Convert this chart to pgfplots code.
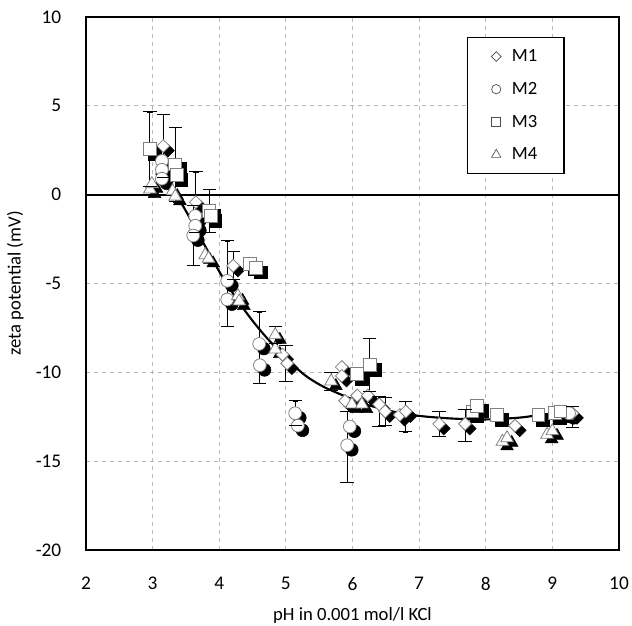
\documentclass[border=0pt]{standalone}
\usepackage{pgfplots}
\pgfplotsset{compat=1.18}
\usepackage{pgfplotstable}
\usepackage{fontspec}
\setmainfont{Carlito}

\pgfplotstableread{
x y
3.16 2.74
3.65 -0.42
4.21 -4.0
4.95 -9.0
5.02 -9.5
5.84 -9.7
5.84 -10.2
5.89 -11.6
6.07 -11.3
6.23 -11.3
6.40 -11.8
6.49 -12.2
6.71 -12.4
6.80 -12.2
7.30 -12.9
7.69 -12.9
8.44 -13.0
9.30 -12.3
}\mone

\pgfplotstableread{
x y
3.14 1.9
3.14 1.4
3.14 0.9
3.64 -1.2
3.64 -1.75
3.61 -2.3
4.12 -4.85
4.12 -5.9
4.60 -8.4
4.61 -9.6
5.14 -12.3
5.18 -13.0
5.96 -13.05
5.92 -14.1
9.25 -12.3
}\mtwo

\pgfplotstableread{
x y
2.96 2.56
3.34 1.7
3.36 1.1
3.85 -0.9
3.87 -1.2
4.46 -3.9
4.55 -4.1
6.07 -10.1
6.26 -9.6
7.80 -12.2
7.87 -11.9
8.17 -12.4
8.79 -12.4
9.04 -12.3
9.12 -12.2
}\mthree

\pgfplotstableread{
x y
2.96 0.3
2.99 0.6
3.30 0.2
3.34 -0.1
3.79 -3.4
3.84 -3.6
4.28 -5.7
4.30 -6.0
4.84 -7.9
4.84 -8.7
5.68 -10.5
5.99 -11.8
6.14 -11.8
8.25 -13.9
8.32 -13.7
8.92 -13.5
9.00 -13.3
}\mfour

\pgfplotstableread{
x y e
2.96 2.56 2.1
3.16 2.74 1.8
3.34 1.7 2.1
3.65 -0.42 1.7
3.85 -0.9 1.2
3.61 -2.3 1.7
4.12 -5.0 2.4
4.21 -4.0 0.8
4.60 -8.6 2.0
4.84 -7.9 0.5
5.00 -9.5 1.0
5.14 -12.3 0.7
5.68 -10.5 0.5
5.92 -14.2 2.0
6.26 -9.6 1.5
6.40 -12.2 0.85
6.49 -12.2 0.8
6.80 -12.5 0.85
7.30 -12.9 0.7
7.69 -13.0 0.9
9.30 -12.5 0.6
}\errs

\pgfplotstableread{
x y
3.05 1.2
3.40 -0.3
3.70 -2.3
4.06 -4.7
4.40 -6.6
4.70 -8.0
5.06 -9.4
5.30 -10.2
5.56 -10.8
5.86 -11.3
6.20 -11.8
6.60 -12.2
7.00 -12.45
7.50 -12.6
8.00 -12.65
8.50 -12.55
8.80 -12.4
}\fit

\begin{document}
\begin{tikzpicture}
\begin{axis}[
  name=ax,
  width=400pt, height=400pt, scale only axis,
  xmin=2, xmax=10, ymin=-20, ymax=10,
  xtick={2,3,...,10}, ytick={-20,-15,...,10},
  major tick length=0pt,
  grid=major,
  grid style={dashed, gray!55, line width=0.6pt},
  axis line style={line width=2pt},
  /pgf/number format/assume math mode=true,
  tick label style={font=\fontsize{14.5}{16}\selectfont},
  yticklabel style={xshift=-15pt},
  xticklabel style={yshift=-17pt},
  xlabel={pH in 0.001 mol/l KCl},
  ylabel={zeta potential (mV)},
  label style={font=\fontsize{14}{16}\selectfont},
  xlabel style={at={([yshift=-49pt]axis description cs:0.5,0)}, anchor=center},
  ylabel style={at={([xshift=-53pt]axis description cs:0,0.5)}, anchor=center},
  clip=false,
  legend style={at={(0.714,0.963)}, anchor=north west, draw=black, line width=1.2pt,
    font=\fontsize{14}{16}\selectfont, row sep=10pt, column sep=6pt,
    inner xsep=18pt, inner ysep=7pt},
  legend cell align=left,
]
% legend images
\addlegendimage{only marks, mark=square, mark size=2.6pt, mark options={rotate=45, draw=black!70, line width=0.5pt}}
\addlegendentry{M1\hspace{10pt}}
\addlegendimage{only marks, mark=o, mark size=3.5pt, mark options={draw=black!70, line width=0.5pt}}
\addlegendentry{M2\hspace{10pt}}
\addlegendimage{only marks, mark=square, mark size=3.4pt, mark options={draw=black!70, line width=0.5pt}}
\addlegendentry{M3\hspace{10pt}}
\addlegendimage{only marks, mark=triangle, mark size=4pt, mark options={draw=black!70, line width=0.5pt}}
\addlegendentry{M4\hspace{10pt}}

\addplot[forget plot, black, line width=1.5pt] coordinates {(2,0) (10,0)};

% shadows
\addplot[forget plot, only marks, mark=square*, mark size=3.4pt, mark options={xshift=3.5pt, yshift=-3.5pt, rotate=45, fill=black, draw=black}] table {\mone};
\addplot[forget plot, only marks, mark=*, mark size=4.8pt, mark options={xshift=3.5pt, yshift=-3.5pt, fill=black, draw=black}] table {\mtwo};
\addplot[forget plot, only marks, mark=square*, mark size=4.8pt, mark options={xshift=3.5pt, yshift=-3.5pt, fill=black, draw=black}] table {\mthree};
\addplot[forget plot, only marks, mark=triangle*, mark size=5.5pt, mark options={xshift=3.5pt, yshift=-3.5pt, fill=black, draw=black}] table {\mfour};

% white markers
\addplot[forget plot, only marks, mark=square*, mark size=3.4pt, mark options={rotate=45, fill=white, draw=gray, line width=0.6pt}] table {\mone};
\addplot[forget plot, only marks, mark=*, mark size=4.8pt, mark options={fill=white, draw=gray, line width=0.6pt}] table {\mtwo};
\addplot[forget plot, only marks, mark=square*, mark size=4.8pt, mark options={fill=white, draw=gray, line width=0.6pt}] table {\mthree};
\addplot[forget plot, only marks, mark=triangle*, mark size=5.5pt, mark options={fill=white, draw=gray, line width=0.6pt}] table {\mfour};

% fit line
\addplot[forget plot, black, line width=1.6pt, smooth] table {\fit};

% error bars
\addplot[forget plot, draw=none, mark=none,
  error bars/.cd, y dir=both, y explicit,
  error bar style={draw=black, line width=0.7pt}]
  table[x=x, y=y, y error=e] {\errs};
% error bar caps
\addplot[forget plot, only marks, mark=-, mark size=5pt, mark options={draw=black, line width=0.7pt}]
  table[x=x, y expr=\thisrow{y}+\thisrow{e}] {\errs};
\addplot[forget plot, only marks, mark=-, mark size=5pt, mark options={draw=black, line width=0.7pt}]
  table[x=x, y expr=\thisrow{y}-\thisrow{e}] {\errs};
\end{axis}
\pgfresetboundingbox
\path[use as bounding box] ([shift={(-64.5pt,-57pt)}]ax.south west) rectangle ([shift={(9.75pt,12.75pt)}]ax.north east);
\end{tikzpicture}
\end{document}
